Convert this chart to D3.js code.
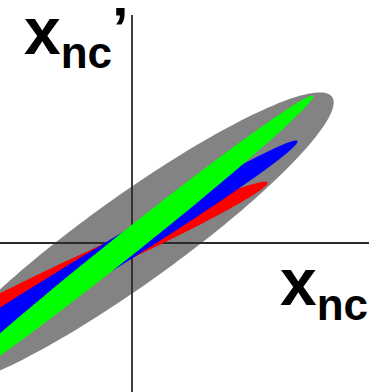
<!DOCTYPE html>
<html>
<head>
<meta charset="utf-8">
<script src="https://cdn.jsdelivr.net/npm/d3@7"></script>
<style>
  html, body { margin: 0; padding: 0; background: #fff; }
  svg { display: block; }
  .lbl { font-family: "Liberation Sans", Arial, sans-serif; font-weight: bold; fill: #000; }
</style>
</head>
<body>
<div class="vis"></div>
<script>
'use strict';

// phase-space distributions, drawn as filled ellipses (data units)
var names   = ['all', 'red', 'blue', 'green'];
var colors  = ['#838383', '#ff0000', '#0000ff', '#00ff00'];
var centerX = [0.00, -0.38, -0.58, -0.05];
var centerY = [0.03, -0.19, -0.35, -0.01];
var semiA   = [2.46, 1.91, 2.62, 2.38];
var semiB   = [0.44, 0.125, 0.14, 0.12];
var tiltDeg = [35.6, 24.6, 31.5, 38.5];

// axis extent and labels
var xDomain = [-1.32, 2.37];
var yDomain = [-1.49, 2.43];
var xLabel = 'x', xSub = 'nc';
var yLabel = 'x', ySub = 'nc', yPrime = '\u2019';

var width = 369, height = 392;

var x = d3.scaleLinear().domain(xDomain).range([0, width]);
var y = d3.scaleLinear().domain(yDomain).range([height, 0]);

var svg = d3.select('.vis').append('svg')
  .attr('width', width)
  .attr('height', height);

var line = d3.line()
  .x(function(d) { return x(d[0]); })
  .y(function(d) { return y(d[1]); });

function outline(i) {
  var t = tiltDeg[i] * Math.PI / 180;
  return d3.range(0, 361, 2).map(function(deg) {
    var p = deg * Math.PI / 180;
    var u = semiA[i] * Math.cos(p), v = semiB[i] * Math.sin(p);
    return [centerX[i] + u * Math.cos(t) - v * Math.sin(t),
            centerY[i] + u * Math.sin(t) + v * Math.cos(t)];
  });
}

// gray cloud first
svg.append('path')
  .attr('d', line(outline(0)) + 'Z')
  .attr('fill', colors[0]);

// axes through the origin
svg.append('line')
  .attr('x1', 0).attr('x2', width)
  .attr('y1', y(0)).attr('y2', y(0))
  .attr('stroke', '#2a2a2a').attr('stroke-width', 1.8);
svg.append('line')
  .attr('x1', x(0)).attr('x2', x(0))
  .attr('y1', 15).attr('y2', height)
  .attr('stroke', '#2a2a2a').attr('stroke-width', 1.8);

// coloured distributions on top
svg.selectAll('path.dist')
  .data([1, 2, 3])
  .enter().append('path')
  .attr('class', 'dist')
  .attr('d', function(i) { return line(outline(i)) + 'Z'; })
  .attr('fill', function(i) { return colors[i]; });

// labels
var yTitle = svg.append('text').attr('class', 'lbl').attr('x', 24).attr('y', 54);
yTitle.append('tspan').attr('font-size', 66).text(yLabel);
yTitle.append('tspan').attr('font-size', 44).attr('dy', 14).text(ySub);
yTitle.append('tspan').attr('font-size', 60).attr('dy', -19).text(yPrime);

var xTitle = svg.append('text').attr('class', 'lbl').attr('x', 280).attr('y', 305);
xTitle.append('tspan').attr('font-size', 66).text(xLabel);
xTitle.append('tspan').attr('font-size', 44).attr('dy', 15).text(xSub);
</script>
</body>
</html>
